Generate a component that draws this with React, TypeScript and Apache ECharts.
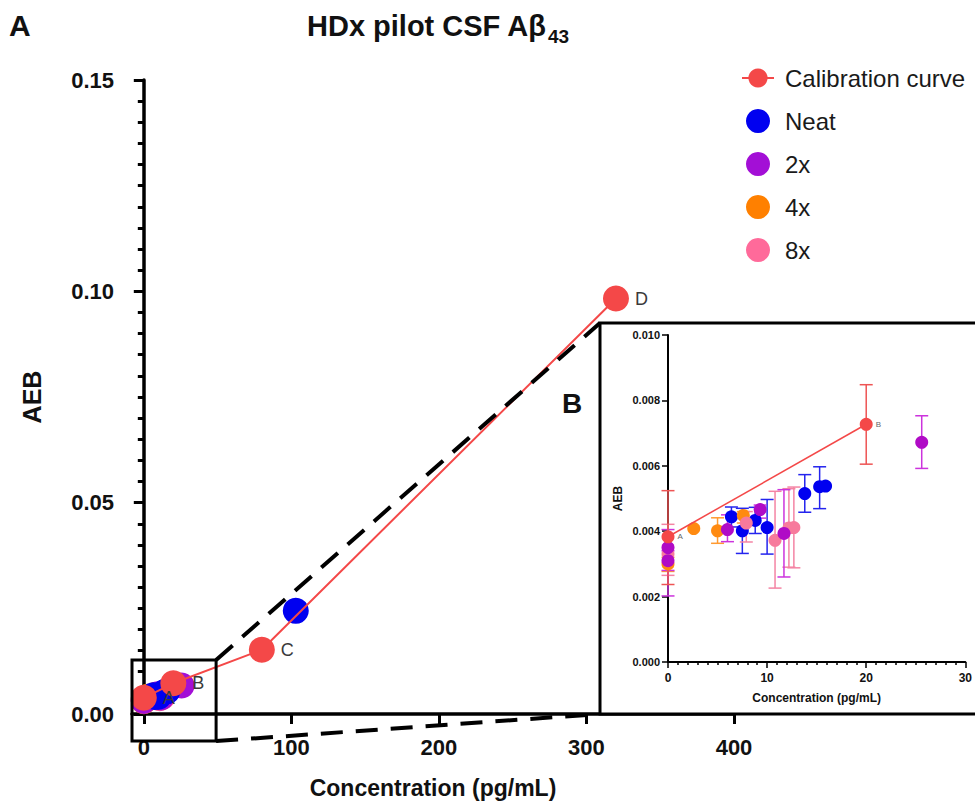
import React, { useEffect, useRef } from 'react';
import * as echarts from 'echarts';

// ---------- data ----------
const calibrationX = [0, 20, 80, 320];
const calibrationY = [0.00383, 0.00727, 0.0152, 0.0983];
const calibrationLow = [0.00237, 0.00605, null, null];
const calibrationHigh = [0.00524, 0.00848, null, null];
const calibrationLabels = ['A', 'B', 'C', 'D'];

const neatX = [6.4, 7.5, 8.8, 10.0, 13.8, 15.3, 15.9, 103];
const neatY = [0.00444, 0.00401, 0.00433, 0.00411, 0.00515, 0.00536, 0.00538, 0.0244];
const neatLow = [0.00413, 0.00332, 0.00393, 0.0033, 0.00458, 0.00469, null, null];
const neatHigh = [0.00474, 0.0047, 0.00473, 0.00497, 0.00573, 0.00597, null, null];

const x2X = [0, 0, 6.0, 9.3, 11.7, 25.6];
const x2Y = [0.0035, 0.0031, 0.00405, 0.00466, 0.00393, 0.00672];
const x2Low = [0.00202, 0.0028, 0.00368, 0.0044, 0.0026, 0.00592];
const x2High = [0.00405, 0.0034, 0.0045, 0.0048, 0.00527, 0.00753];

const x4X = [0, 2.6, 5.0, 7.6];
const x4Y = [0.003, 0.00408, 0.00401, 0.00448];
const x4Low = [0.00277, null, 0.00363, 0.00425];
const x4High = [0.0032, null, 0.00441, 0.0046];

const x8X = [0, 7.9, 10.8, 12.2, 12.7];
const x8Y = [0.0033, 0.00425, 0.00372, 0.0041, 0.00411];
const x8Low = [0.00265, 0.00367, 0.00226, 0.0029, 0.00288];
const x8High = [0.00421, 0.0046, 0.00522, 0.0053, 0.00535];

const mainXTicks = [0, 100, 200, 300, 400];
const legendNames = ['Calibration curve', 'Neat', '2x', '4x', '8x'];

const FONT = '"Liberation Sans", Arial, Helvetica, sans-serif';

const COLORS: Record<string, string> = {
  'Calibration curve': '#F44848',
  Neat: '#0000F0',
  '2x': '#A30FD6',
  '4x': '#FF8000',
  '8x': '#FF6A9A',
};
const INSET_COLORS: Record<string, string> = {
  'Calibration curve': '#F44848',
  Neat: '#0000F0',
  '2x': '#B00BC6',
  '4x': '#FF8A10',
  '8x': '#F77A9C',
};
const BAR_COLORS: Record<string, string> = {
  'Calibration curve': '#EE5454',
  Neat: '#2424EE',
  '2x': '#CC33DD',
  '4x': '#FF9A30',
  '8x': '#F484A4',
};

const groups = {
  Neat: { name: 'Neat', xs: neatX, ys: neatY, lo: neatLow, hi: neatHigh },
  '2x': { name: '2x', xs: x2X, ys: x2Y, lo: x2Low, hi: x2High },
  '4x': { name: '4x', xs: x4X, ys: x4Y, lo: x4Low, hi: x4High },
  '8x': { name: '8x', xs: x8X, ys: x8Y, lo: x8Low, hi: x8High },
};
const mainOrder = ['4x', '8x', '2x', 'Neat'];
const insetOrder = ['Neat', '4x', '8x', '2x'];

const pts = (xs: number[], ys: number[]) => xs.map((x, i) => [x, ys[i]]);
const inInset = (p: number[]) => p[0] <= 30 && p[1] <= 0.01;

function errorBars(name: string, xs: number[], lo: (number | null)[], hi: (number | null)[]) {
  const color = BAR_COLORS[name];
  const data = xs
    .map((x, i) => [x, lo[i], hi[i]])
    .filter((d) => d[1] != null && d[2] != null && (d[0] as number) <= 30);
  return {
    type: 'custom',
    name: name + ' SD',
    xAxisIndex: 1,
    yAxisIndex: 1,
    z: 9,
    silent: true,
    data,
    encode: { x: 0, y: [1, 2] },
    renderItem: (params: any, api: any) => {
      const x = api.value(0);
      const p1 = api.coord([x, api.value(1)]);
      const p2 = api.coord([x, api.value(2)]);
      const w = 6.5;
      const style = { stroke: color, lineWidth: 1.5, fill: 'none' };
      return {
        type: 'group',
        children: [
          { type: 'line', shape: { x1: p1[0], y1: p1[1], x2: p2[0], y2: p2[1] }, style },
          { type: 'line', shape: { x1: p1[0] - w, y1: p1[1], x2: p1[0] + w, y2: p1[1] }, style },
          { type: 'line', shape: { x1: p2[0] - w, y1: p2[1], x2: p2[0] + w, y2: p2[1] }, style },
        ],
      };
    },
  };
}

function measure(text: string, font: string) {
  const ctx = document.createElement('canvas').getContext('2d');
  if (!ctx) return text.length * 15;
  ctx.font = font;
  return ctx.measureText(text).width;
}

export default function App() {
  const ref = useRef<HTMLDivElement>(null);

  useEffect(() => {
    if (!ref.current) return;
    const chart = echarts.init(ref.current, null, { renderer: 'svg' });

    const calPts = pts(calibrationX, calibrationY);

    const series: any[] = [];
    mainOrder.forEach((k) => {
      const g = (groups as any)[k];
      series.push({
        type: 'scatter',
        name: g.name,
        xAxisIndex: 0,
        yAxisIndex: 0,
        symbol: 'circle',
        symbolSize: 26,
        itemStyle: { color: COLORS[g.name], opacity: 1 },
        data: pts(g.xs, g.ys),
        z: 2,
      });
    });
    series.push({
      type: 'line',
      name: 'Calibration curve',
      xAxisIndex: 0,
      yAxisIndex: 0,
      symbol: 'circle',
      symbolSize: 26,
      itemStyle: { color: COLORS['Calibration curve'] },
      lineStyle: { color: COLORS['Calibration curve'], width: 2 },
      data: calPts,
      z: 3,
      label: {
        show: true,
        position: 'right',
        distance: 6,
        formatter: (p: any) => calibrationLabels[p.dataIndex],
        fontSize: 18,
        fontFamily: FONT,
        color: '#3a3a3a',
      },
    });

    insetOrder.forEach((k) => {
      const g = (groups as any)[k];
      series.push(errorBars(g.name, g.xs, g.lo, g.hi));
    });
    series.push(errorBars('Calibration curve', calibrationX, calibrationLow, calibrationHigh));
    insetOrder.forEach((k) => {
      const g = (groups as any)[k];
      series.push({
        type: 'scatter',
        name: g.name,
        xAxisIndex: 1,
        yAxisIndex: 1,
        symbol: 'circle',
        symbolSize: 13,
        itemStyle: { color: INSET_COLORS[g.name], opacity: 1 },
        data: pts(g.xs, g.ys).filter(inInset),
        z: 10,
      });
    });
    series.push({
      type: 'line',
      name: 'Calibration curve',
      xAxisIndex: 1,
      yAxisIndex: 1,
      symbol: 'circle',
      symbolSize: 13,
      itemStyle: { color: INSET_COLORS['Calibration curve'] },
      lineStyle: { color: INSET_COLORS['Calibration curve'], width: 1.5 },
      data: calPts.filter(inInset),
      z: 11,
      label: {
        show: true,
        position: 'right',
        distance: 3,
        formatter: (p: any) => calibrationLabels[p.dataIndex],
        fontSize: 8,
        fontFamily: FONT,
        color: '#666',
      },
    });

    const boldLabel = (size: number) => ({
      fontSize: size,
      fontWeight: 'bold',
      fontFamily: FONT,
      color: '#111',
    });

    chart.setOption({
      animation: false,
      backgroundColor: '#fff',
      legend: {
        data: legendNames,
        orient: 'vertical',
        left: 736,
        top: 61,
        itemWidth: 32,
        itemHeight: 24,
        itemGap: 19,
        selectedMode: false,
        textStyle: { fontSize: 24, fontFamily: FONT, color: '#1a1a1a', padding: [0, 0, 0, 6] },
      },
      grid: [
        { left: 132, top: 80, width: 602, height: 634 },
        { left: 668, top: 335, width: 303, height: 327 },
      ],
      xAxis: [
        {
          type: 'value',
          gridIndex: 0,
          min: -8,
          max: 400,
          z: 0,
          name: 'Concentration (pg/mL)',
          nameLocation: 'middle',
          nameGap: 62,
          nameTextStyle: boldLabel(23),
          splitLine: { show: false },
          axisLine: { onZero: false, lineStyle: { color: '#000', width: 3.5 } },
          axisTick: { customValues: mainXTicks, length: 10, lineStyle: { color: '#000', width: 3 } },
          axisLabel: { customValues: mainXTicks, margin: 22, ...boldLabel(22) },
        },
        {
          type: 'value',
          gridIndex: 1,
          min: 0,
          max: 30,
          interval: 10,
          z: 8,
          name: 'Concentration (pg/mL)',
          nameLocation: 'middle',
          nameGap: 30,
          nameTextStyle: boldLabel(12),
          splitLine: { show: false },
          axisLine: { onZero: false, lineStyle: { color: '#000', width: 2 } },
          axisTick: { length: 6, lineStyle: { color: '#000', width: 1.5 } },
          minorTick: { show: true, splitNumber: 10, length: 3, lineStyle: { color: '#000', width: 1.5 } },
          axisLabel: { margin: 10, ...boldLabel(12) },
        },
      ],
      yAxis: [
        {
          type: 'value',
          gridIndex: 0,
          min: 0,
          max: 0.15,
          interval: 0.05,
          z: 0,
          name: 'AEB',
          nameLocation: 'middle',
          nameGap: 88,
          nameTextStyle: boldLabel(25),
          splitLine: { show: false },
          axisLine: { show: true, onZero: true, lineStyle: { color: '#000', width: 3.5 } },
          axisTick: { show: true, length: 10, lineStyle: { color: '#000', width: 3 } },
          minorTick: { show: true, splitNumber: 10, length: 6, lineStyle: { color: '#000', width: 3 } },
          axisLabel: { margin: 18, formatter: (v: number) => v.toFixed(2), ...boldLabel(22) },
        },
        {
          type: 'value',
          gridIndex: 1,
          min: 0,
          max: 0.01,
          interval: 0.002,
          z: 8,
          name: 'AEB',
          nameLocation: 'middle',
          nameGap: 44,
          nameTextStyle: boldLabel(12),
          splitLine: { show: false },
          axisLine: { show: true, onZero: false, lineStyle: { color: '#000', width: 2 } },
          axisTick: { show: true, length: 6, lineStyle: { color: '#000', width: 1.5 } },
          axisLabel: { margin: 8, formatter: (v: number) => v.toFixed(3), ...boldLabel(11) },
        },
      ],
      series,
    });

    // annotation: zoom box on main chart, connector lines and inset frame
    const zoomBoxX = [-8, 49];
    const zoomBoxY = [-0.0064, 0.0128];
    const tl = chart.convertToPixel({ gridIndex: 0 }, [zoomBoxX[0], zoomBoxY[1]]) as number[];
    const br = chart.convertToPixel({ gridIndex: 0 }, [zoomBoxX[1], zoomBoxY[0]]) as number[];
    const insetOrigin = chart.convertToPixel({ gridIndex: 1 }, [0, 0.01]) as number[];
    const mainOrigin = chart.convertToPixel({ gridIndex: 0 }, [0, 0]) as number[];
    const frameX = insetOrigin[0] - 68;
    const frameY = insetOrigin[1] - 12;
    const frameBottom = mainOrigin[1];

    const titleMain = 'HDx pilot CSF Aβ';
    const titleSub = '43';
    const titleFont = `bold 29px ${FONT}`;
    const titleX = 307;
    const titleW = measure(titleMain, titleFont);

    chart.setOption({
      graphic: {
        elements: [
          {
            type: 'rect',
            z: 5,
            shape: { x: tl[0], y: tl[1], width: br[0] - tl[0], height: br[1] - tl[1] },
            style: { fill: 'none', stroke: '#000', lineWidth: 3 },
          },
          {
            type: 'line',
            z: 5,
            shape: { x1: br[0], y1: tl[1], x2: frameX, y2: frameY },
            style: { stroke: '#000', lineWidth: 4, lineDash: [22, 13] },
          },
          {
            type: 'line',
            z: 5,
            shape: { x1: br[0], y1: br[1], x2: frameX, y2: frameBottom },
            style: { stroke: '#000', lineWidth: 4, lineDash: [22, 13] },
          },
          {
            type: 'rect',
            z: 6,
            shape: { x: frameX, y: frameY, width: 1000 - frameX, height: frameBottom - frameY },
            style: { fill: '#fff', stroke: '#000', lineWidth: 3 },
          },
          {
            type: 'text',
            z: 7,
            x: titleX,
            y: 11,
            style: { text: titleMain, font: titleFont, fill: '#111', verticalAlign: 'top' },
          },
          {
            type: 'text',
            z: 7,
            x: titleX + titleW + 1,
            y: 27,
            style: { text: titleSub, font: `bold 19px ${FONT}`, fill: '#111', verticalAlign: 'top' },
          },
          {
            type: 'text',
            z: 7,
            x: 9,
            y: 10,
            style: { text: 'A', font: `bold 30px ${FONT}`, fill: '#111' },
          },
          {
            type: 'text',
            z: 7,
            x: 562,
            y: 389,
            style: { text: 'B', font: `bold 28px ${FONT}`, fill: '#111' },
          },
        ],
      },
    });

    return () => chart.dispose();
  }, []);

  return (
    <div
      ref={ref}
      style={{ position: 'absolute', left: 0, top: 0, width: 975, height: 805 }}
    />
  );
}
